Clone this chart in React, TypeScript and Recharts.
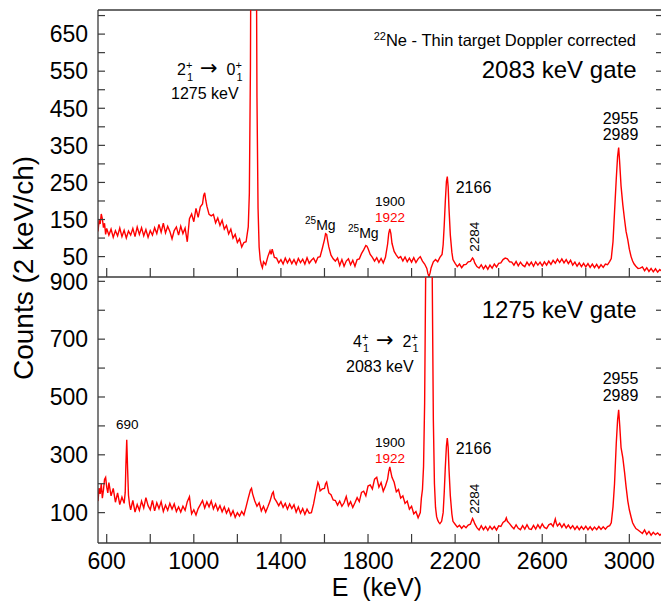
import React from 'react';
import { LineChart, Line, XAxis, YAxis, ReferenceLine } from 'recharts';

// axis setup
const energyDomain: [number, number] = [560, 3150];
const energyTicks = [600, 800, 1000, 1200, 1400, 1600, 1800, 2000, 2200, 2400, 2600, 2800, 3000];
const energyLabels = [600, 1000, 1400, 1800, 2200, 2600, 3000];

const topDomain: [number, number] = [-5, 715];
const topTicks = [50, 100, 150, 200, 250, 300, 350, 400, 450, 500, 550, 600, 650, 700];
const topLabels = [50, 150, 250, 350, 450, 550, 650];

const bottomDomain: [number, number] = [-5, 915];
const bottomTicks = [100, 200, 300, 400, 500, 600, 700, 800, 900];
const bottomLabels = [100, 300, 500, 700, 900];

// 2083 keV gate spectrum, [E (keV), counts]
const topSpectrum: [number, number][] = [
  [560,118],[565,148],[570,138],[575,165],[580,152],[585,128],[590,140],[595,110],[600,126],[610,108],
  [620,124],[630,102],[640,120],[650,106],[660,127],[670,104],[680,121],[690,100],[700,119],[710,108],
  [720,126],[730,104],[740,130],[750,110],[760,128],[770,106],[780,123],[790,102],[800,120],[810,108],
  [820,128],[830,112],[840,137],[850,116],[860,140],[870,114],[880,132],[890,118],[900,98],[910,120],
  [920,130],[930,108],[940,132],[950,112],[960,127],[970,90],[980,152],[990,165],[1000,144],[1010,180],
  [1020,156],[1030,184],[1040,192],[1045,214],[1050,222],[1055,202],[1060,186],[1070,164],[1080,160],[1090,164],
  [1100,141],[1110,154],[1120,134],[1130,148],[1140,124],[1150,134],[1160,111],[1170,124],[1180,100],[1190,110],
  [1200,88],[1210,98],[1220,76],[1230,88],[1240,90],[1245,110],[1250,130],[1255,220],[1260,560],[1265,1300],
  [1270,2600],[1275,3200],[1280,2600],[1285,1200],[1290,480],[1295,180],[1300,75],[1305,42],[1310,28],[1315,20],
  [1320,36],[1330,28],[1340,50],[1350,66],[1355,56],[1360,70],[1370,48],[1380,46],[1390,33],[1400,42],
  [1410,30],[1420,46],[1430,33],[1440,44],[1450,31],[1460,42],[1470,29],[1480,45],[1490,34],[1500,43],
  [1510,30],[1520,47],[1530,32],[1540,40],[1550,46],[1560,34],[1570,48],[1580,50],[1590,72],[1600,96],
  [1605,112],[1610,110],[1615,92],[1620,76],[1630,54],[1640,44],[1650,38],[1660,46],[1670,26],[1680,42],
  [1690,24],[1700,38],[1710,44],[1720,28],[1730,40],[1740,24],[1750,42],[1760,44],[1770,58],[1780,68],
  [1790,80],[1795,78],[1800,72],[1810,56],[1820,48],[1830,38],[1840,47],[1850,34],[1860,45],[1870,33],
  [1880,48],[1890,84],[1895,112],[1900,125],[1905,112],[1910,86],[1920,64],[1930,54],[1940,46],[1950,50],
  [1960,38],[1970,49],[1980,36],[1990,46],[2000,35],[2010,47],[2020,34],[2030,44],[2040,50],[2050,38],
  [2060,30],[2070,18],[2075,4],[2080,-4],[2085,6],[2090,20],[2100,36],[2110,42],[2120,36],[2130,48],
  [2140,56],[2145,82],[2150,135],[2155,200],[2160,252],[2164,266],[2168,238],[2172,178],[2178,108],[2185,62],
  [2190,42],[2200,32],[2210,23],[2220,30],[2230,20],[2240,28],[2250,29],[2260,36],[2270,37],[2280,46],
  [2285,42],[2290,33],[2300,23],[2310,19],[2320,28],[2330,17],[2340,26],[2350,16],[2360,27],[2370,19],
  [2380,30],[2390,22],[2400,32],[2410,33],[2420,42],[2430,46],[2440,44],[2450,36],[2460,35],[2470,27],
  [2480,37],[2490,25],[2500,35],[2510,27],[2520,23],[2530,35],[2540,26],[2550,35],[2560,24],[2570,36],
  [2580,27],[2590,35],[2600,25],[2610,36],[2620,27],[2630,38],[2640,29],[2650,40],[2660,32],[2670,43],
  [2680,34],[2690,44],[2700,33],[2710,42],[2720,31],[2730,40],[2740,27],[2750,35],[2760,24],[2770,33],
  [2780,23],[2790,32],[2800,22],[2810,31],[2820,21],[2830,30],[2840,20],[2850,29],[2860,19],[2870,28],
  [2880,21],[2890,30],[2900,28],[2910,37],[2917,45],[2925,90],[2932,170],[2940,260],[2946,320],[2951,344],
  [2955,310],[2962,240],[2970,190],[2978,150],[2985,118],[2993,95],[3000,70],[3008,50],[3015,38],[3022,30],
  [3030,24],[3040,18],[3050,19],[3060,22],[3070,12],[3080,20],[3090,10],[3100,18],[3110,9],[3120,17],
  [3130,8],[3140,15],[3150,10],
];

// 1275 keV gate spectrum, [E (keV), counts]
const bottomSpectrum: [number, number][] = [
  [560,140],[565,185],[570,165],[575,200],[580,150],[585,178],[590,215],[595,222],[600,188],[605,168],
  [610,204],[620,158],[630,184],[640,136],[650,168],[660,128],[670,154],[680,132],[685,170],[688,262],
  [692,352],[696,250],[700,160],[705,128],[710,110],[720,142],[730,102],[740,128],[750,108],[760,140],
  [770,116],[780,152],[790,124],[800,110],[810,142],[820,106],[830,134],[840,114],[850,138],[860,104],
  [870,126],[880,108],[890,132],[900,112],[910,130],[920,104],[930,120],[940,102],[950,122],[960,108],
  [970,138],[980,155],[985,122],[990,96],[1000,110],[1010,92],[1020,114],[1030,128],[1040,142],[1050,116],
  [1060,137],[1070,120],[1080,140],[1090,113],[1100,130],[1110,108],[1120,124],[1130,103],[1140,120],[1150,98],
  [1160,114],[1170,90],[1180,107],[1190,84],[1200,100],[1210,88],[1220,104],[1230,92],[1240,120],[1250,150],
  [1260,178],[1265,184],[1270,165],[1280,140],[1290,122],[1300,134],[1310,106],[1320,122],[1330,102],[1340,120],
  [1350,140],[1360,166],[1365,172],[1370,150],[1380,138],[1390,124],[1400,138],[1410,118],[1420,132],[1430,112],
  [1440,130],[1450,114],[1460,127],[1470,102],[1480,120],[1490,98],[1500,114],[1510,94],[1520,112],[1530,98],
  [1540,100],[1550,130],[1560,170],[1570,205],[1575,196],[1580,175],[1590,182],[1600,184],[1605,200],[1610,206],
  [1620,168],[1630,162],[1640,144],[1650,142],[1660,126],[1670,140],[1680,122],[1690,134],[1700,156],[1710,124],
  [1720,138],[1730,118],[1740,134],[1750,152],[1760,138],[1770,170],[1780,174],[1790,158],[1800,192],[1810,196],
  [1820,182],[1830,216],[1840,222],[1850,188],[1860,204],[1870,174],[1880,192],[1890,216],[1895,242],[1900,258],
  [1905,240],[1910,222],[1920,205],[1930,172],[1940,180],[1950,150],[1960,158],[1970,132],[1980,140],[1990,112],
  [2000,122],[2010,96],[2020,104],[2030,82],[2040,100],[2045,150],[2050,180],[2055,260],[2060,480],[2065,950],
  [2070,2000],[2075,3000],[2080,3300],[2085,3000],[2090,1800],[2095,900],[2100,420],[2105,200],[2110,118],[2115,86],
  [2120,74],[2125,66],[2130,62],[2138,70],[2145,100],[2150,170],[2155,258],[2160,330],[2164,358],[2168,326],
  [2172,248],[2178,158],[2185,96],[2190,70],[2200,60],[2210,50],[2220,56],[2230,46],[2240,55],[2250,48],
  [2260,57],[2270,60],[2280,80],[2285,72],[2290,62],[2300,48],[2310,40],[2320,55],[2330,41],[2340,52],
  [2350,39],[2360,53],[2370,42],[2380,52],[2390,40],[2400,54],[2410,52],[2420,66],[2430,72],[2435,82],
  [2440,70],[2450,62],[2460,52],[2470,44],[2480,58],[2490,46],[2500,41],[2510,55],[2520,43],[2530,58],
  [2540,44],[2550,42],[2560,56],[2570,43],[2580,58],[2590,46],[2600,61],[2610,49],[2620,45],[2630,58],
  [2640,62],[2650,52],[2660,78],[2665,62],[2670,54],[2680,63],[2690,49],[2700,61],[2710,47],[2720,57],
  [2730,45],[2740,55],[2750,42],[2760,53],[2770,41],[2780,52],[2790,42],[2800,53],[2810,41],[2820,51],
  [2830,40],[2840,50],[2850,41],[2860,52],[2870,42],[2880,51],[2890,43],[2900,52],[2910,55],[2917,65],
  [2925,120],[2932,200],[2940,340],[2946,420],[2951,456],[2956,400],[2962,325],[2970,290],[2978,240],[2985,190],
  [2993,140],[3000,110],[3008,85],[3015,65],[3022,55],[3030,45],[3040,40],[3050,34],[3060,28],[3070,40],
  [3080,25],[3090,35],[3100,22],[3110,32],[3120,24],[3130,30],[3140,22],[3150,28],
];

const AXIS = '#3a3a3a';
const RED = '#ff0000';
const FONT = '"Liberation Sans", Arial, Helvetica, sans-serif';

const topData = topSpectrum.map(([e, c]) => ({ e, c }));
const bottomData = bottomSpectrum.map(([e, c]) => ({ e, c }));

// ticks point into the plot, labels sit outside
const LeftTick = (props: any) => {
  const { x, y, payload, labels } = props;
  return (
    <g>
      <line x1={x} x2={x + 7} y1={y} y2={y} stroke={AXIS} strokeWidth={1.2} />
      {labels.includes(payload.value) && (
        <text x={x - 10} y={y} dy="0.36em" textAnchor="end" fontSize={23} fontFamily={FONT} fill="#000">
          {payload.value}
        </text>
      )}
    </g>
  );
};

const RightTick = (props: any) => {
  const { x, y } = props;
  return <line x1={x} x2={x - 6} y1={y} y2={y} stroke={AXIS} strokeWidth={1.2} />;
};

const BottomTick = (props: any) => {
  const { x, y, payload, showLabels } = props;
  return (
    <g>
      <line x1={x} x2={x} y1={y} y2={y - 9} stroke={AXIS} strokeWidth={1.2} />
      {showLabels && energyLabels.includes(payload.value) && (
        <text x={x} y={y + 26} textAnchor="middle" fontSize={23} fontFamily={FONT} fill="#000">
          {payload.value}
        </text>
      )}
    </g>
  );
};

const Level = ({ x, y, a, b }: { x: number; y: number; a: string; b: string }) => (
  <g fontFamily={FONT} fill="#000">
    <text x={x} y={y} fontSize={16}>{a}</text>
    <text x={x + 9} y={y - 6} fontSize={11}>+</text>
    <text x={x + 10} y={y + 5.5} fontSize={11}>1</text>
    <text x={x + 23} y={y} fontSize={21} fontFamily='"DejaVu Sans", sans-serif'>→</text>
    <text x={x + 49.5} y={y} fontSize={16}>{b}</text>
    <text x={x + 58.5} y={y - 6} fontSize={11}>+</text>
    <text x={x + 59.5} y={y + 5.5} fontSize={11}>1</text>
  </g>
);

const Mg = ({ x, y }: { x: number; y: number }) => (
  <text x={x} y={y} fontFamily={FONT} fill="#000" fontSize={14}>
    <tspan fontSize={10} dy={-6}>25</tspan>
    <tspan dy={6}>Mg</tspan>
  </text>
);

const Annotations = () => (
  <svg width={661} height={603} style={{ position: 'absolute', left: 0, top: 0, pointerEvents: 'none' }}>
    <g fontFamily={FONT} fill="#000">
      {/* top panel */}
      <text x={636} y={46} textAnchor="end" fontSize={16.5}>
        <tspan fontSize={11} dy={-6}>22</tspan>
        <tspan dy={6}>Ne - Thin target Doppler corrected</tspan>
      </text>
      <text x={636.5} y={77.5} textAnchor="end" fontSize={24}>2083 keV gate</text>
      <text x={171} y={99.3} fontSize={16}>1275 keV</text>
      <text x={375} y={206} fontSize={13.5}>1900</text>
      <text x={375} y={221.7} fontSize={13.5} fill={RED}>1922</text>
      <text x={455.7} y={193.3} fontSize={16}>2166</text>
      <text transform="translate(479, 236.7) rotate(-90)" textAnchor="middle" fontSize={13.5}>2284</text>
      <text x={602.7} y={124} fontSize={16}>2955</text>
      <text x={602.7} y={140} fontSize={16}>2989</text>

      {/* bottom panel */}
      <text x={636.5} y={317.7} textAnchor="end" fontSize={24}>1275 keV gate</text>
      <text x={346} y={371.7} fontSize={16}>2083 keV</text>
      <text x={116} y={429.3} fontSize={13.5}>690</text>
      <text x={375} y={446.7} fontSize={13.5}>1900</text>
      <text x={375} y={462.7} fontSize={13.5} fill={RED}>1922</text>
      <text x={455.7} y={454.3} fontSize={16}>2166</text>
      <text transform="translate(479, 498.7) rotate(-90)" textAnchor="middle" fontSize={13.5}>2284</text>
      <text x={602.7} y={384.3} fontSize={16}>2955</text>
      <text x={602.7} y={400.7} fontSize={16}>2989</text>

      {/* axis titles */}
      <text transform="translate(33, 268) rotate(-90)" textAnchor="middle" fontSize={28}>Counts (2 keV/ch)</text>
      <text x={331.7} y={596} fontSize={25}>E{'\u00a0\u00a0'}(keV)</text>
    </g>
    <Level x={177} y={75} a="2" b="0" />
    <Level x={353} y={346.7} a="4" b="2" />
    <Mg x={305} y={230} />
    <Mg x={348} y={238} />
  </svg>
);

export default function App() {
  return (
    <div style={{ position: 'absolute', left: 0, top: 0, width: 661, height: 603, overflow: 'hidden', background: '#fff' }}>
      {/* 2083 keV gate */}
      <div style={{ position: 'absolute', left: 0, top: 0 }}>
        <LineChart width={663} height={278} data={topData} margin={{ top: 10, right: 0, bottom: 0, left: 0 }}>
          <XAxis
            dataKey="e"
            type="number"
            domain={energyDomain}
            allowDataOverflow
            ticks={energyTicks}
            interval={0}
            height={1}
            tickSize={0}
            tickMargin={0}
            stroke={AXIS}
            strokeWidth={1.3}
            tick={(p: any) => <BottomTick {...p} showLabels={false} />}
          />
          <YAxis
            type="number"
            domain={topDomain}
            allowDataOverflow
            ticks={topTicks}
            interval={0}
            width={98}
            tickSize={0}
            tickMargin={0}
            stroke={AXIS}
            strokeWidth={1.3}
            tick={(p: any) => <LeftTick {...p} labels={topLabels} />}
          />
          <YAxis
            yAxisId="r"
            orientation="right"
            type="number"
            domain={topDomain}
            allowDataOverflow
            ticks={topTicks}
            interval={0}
            width={1}
            tickSize={0}
            tickMargin={0}
            stroke={AXIS}
            tick={(p: any) => <RightTick {...p} />}
          />
          <ReferenceLine y={715} stroke={AXIS} strokeWidth={1.3} />
          <Line dataKey="c" type="linear" stroke={RED} strokeWidth={1.4} dot={false} isAnimationActive={false} />
        </LineChart>
      </div>

      {/* 1275 keV gate */}
      <div style={{ position: 'absolute', left: 0, top: 0 }}>
        <LineChart width={663} height={603} data={bottomData} margin={{ top: 277, right: 0, bottom: 0, left: 0 }}>
          <XAxis
            dataKey="e"
            type="number"
            domain={energyDomain}
            allowDataOverflow
            ticks={energyTicks}
            interval={0}
            height={60}
            tickSize={0}
            tickMargin={0}
            stroke={AXIS}
            strokeWidth={1.3}
            tick={(p: any) => <BottomTick {...p} showLabels />}
          />
          <YAxis
            type="number"
            domain={bottomDomain}
            allowDataOverflow
            ticks={bottomTicks}
            interval={0}
            width={98}
            tickSize={0}
            tickMargin={0}
            stroke={AXIS}
            strokeWidth={1.3}
            tick={(p: any) => <LeftTick {...p} labels={bottomLabels} />}
          />
          <YAxis
            yAxisId="r"
            orientation="right"
            type="number"
            domain={bottomDomain}
            allowDataOverflow
            ticks={bottomTicks}
            interval={0}
            width={1}
            tickSize={0}
            tickMargin={0}
            stroke={AXIS}
            tick={(p: any) => <RightTick {...p} />}
          />
          <Line dataKey="c" type="linear" stroke={RED} strokeWidth={1.4} dot={false} isAnimationActive={false} />
        </LineChart>
      </div>

      <Annotations />
    </div>
  );
}
